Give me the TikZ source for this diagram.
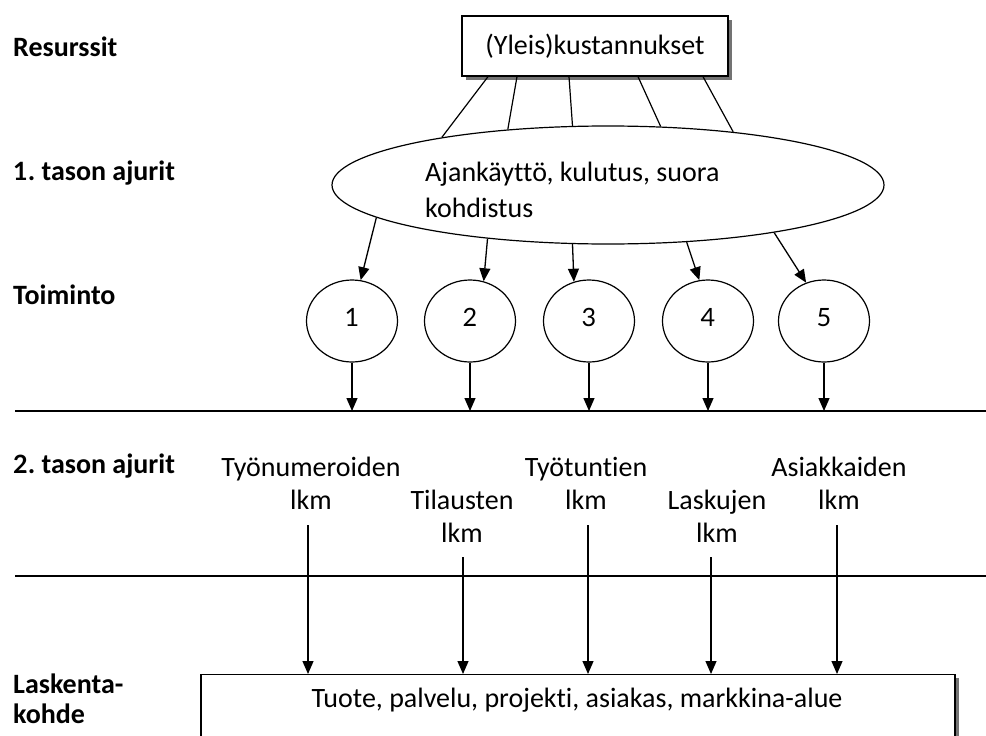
\documentclass[tikz,border=0pt]{standalone}
\usepackage{fontspec}
\setmainfont{Carlito}[Ligatures=NoCommon]
\newfontfamily\numfont{Lato}[Scale=0.9]
\usetikzlibrary{arrows.meta,shapes.geometric,shadows}
\frenchspacing
\begin{document}
\begin{tikzpicture}[x=1pt,y=-1pt,
  every node/.style={font=\fontsize{28}{33}\selectfont, inner sep=0pt},
  lbl/.style={font=\fontsize{28}{30}\selectfont\bfseries, anchor=west, align=left},
  boxshadow/.style={drop shadow={shadow xshift=3.5pt, shadow yshift=-3.5pt, fill=black!55, opacity=1}},
  arr/.style={-{Triangle[length=13pt,width=11pt]}, line width=1.3pt},
  conn/.style={line width=1.2pt},
  hline/.style={line width=1.8pt},
  circ/.style={draw, ellipse, conn, minimum width=91pt, minimum height=82pt, font=\fontsize{28}{33}\selectfont\numfont, text height=18pt, text depth=7pt},
  drvtxt/.style={align=center}
]
\useasboundingbox (0,0) rectangle (986,736);
\clip (0,0) rectangle (986,736);

% left labels
\node[lbl] (res) at (13,47) {Resurssit};
\node[lbl] (lev1) at (13,173) {{\numfont 1}. tason ajurit};
\node[lbl] (toim) at (13,295) {Toiminto};
\node[lbl] (lev2) at (13,466) {{\numfont 2}. tason ajurit};
\node[lbl] (lask) at (13,699) {Laskenta-\\kohde};

% top box
\node[draw, line width=1.3pt, fill=white, boxshadow, minimum width=266pt, minimum height=60pt] (yk) at (595,46) {(Yleis)kustannukset};

% ellipse
\node[draw, ellipse, conn, minimum width=552pt, minimum height=118pt] (aj) at (608,185) {};
\node[anchor=west, align=left, font=\fontsize{28}{36}\selectfont] (ajt) at (425,190) {Ajankäyttö, kulutus, suora\\kohdistus};

\draw[conn] ([xshift=-107pt]yk.south) -- (aj.164.2);
\draw[conn] ([xshift=-78pt]yk.south) -- (aj.151.5);
\draw[conn] ([xshift=-26pt]yk.south) -- (aj.121.6);
\draw[conn] ([xshift=43pt]yk.south) -- (aj.48.7);
\draw[conn] ([xshift=108pt]yk.south) -- (aj.23.9);

% activities
\node[circ] (c1) at (352,321) {1};
\node[circ] (c2) at (470,321) {2};
\node[circ] (c3) at (589,321) {3};
\node[circ] (c4) at (708,321) {4};
\node[circ] (c5) at (824,321) {5};

\draw[arr] (aj.188.9) -- (c1.78.8);
\draw[arr] (aj.204.3) -- (c2.71.7);
\draw[arr] (aj.239.1) -- (c3.111);
\draw[arr] (aj.324.8) -- (c4.102.7);
\draw[arr] (aj.344.6) -- (c5.115.5);

% horizontal lines
\coordinate (L1) at (15,411);
\coordinate (L1e) at (986,411);
\coordinate (L2) at (15,576);
\coordinate (L2e) at (986,576);
\draw[hline] (L1) -- (L1e);
\draw[hline] (L2) -- (L2e);

\foreach \c in {c1,c2,c3,c4,c5}
  \draw[arr] (\c.south) -- (\c.south |- L1);

% second level drivers
\node[drvtxt] (d1) at (311,483) {Työnumeroiden\\lkm};
\node[drvtxt] (d2) at (462,516) {Tilausten\\lkm};
\node[drvtxt] (d3) at (586,483) {Työtuntien\\lkm};
\node[drvtxt] (d4) at (717,516) {Laskujen\\lkm};
\node[drvtxt] (d5) at (839,483) {Asiakkaiden\\lkm};

% cost object box
\node[draw, line width=1.3pt, fill=white, boxshadow, minimum width=754pt, minimum height=100pt, anchor=north] (kohde) at (578,674) {};
\node (kt) at (577,700) {Tuote, palvelu, projekti, asiakas, markkina-alue};

\coordinate (s1) at (308,525);
\coordinate (s2) at (463,557);
\coordinate (s3) at (588,525);
\coordinate (s4) at (711,557);
\coordinate (s5) at (837,525);
\foreach \s in {s1,s2,s3,s4,s5}
  \draw[arr] (\s) -- (\s |- kohde.north);
\end{tikzpicture}
\end{document}
